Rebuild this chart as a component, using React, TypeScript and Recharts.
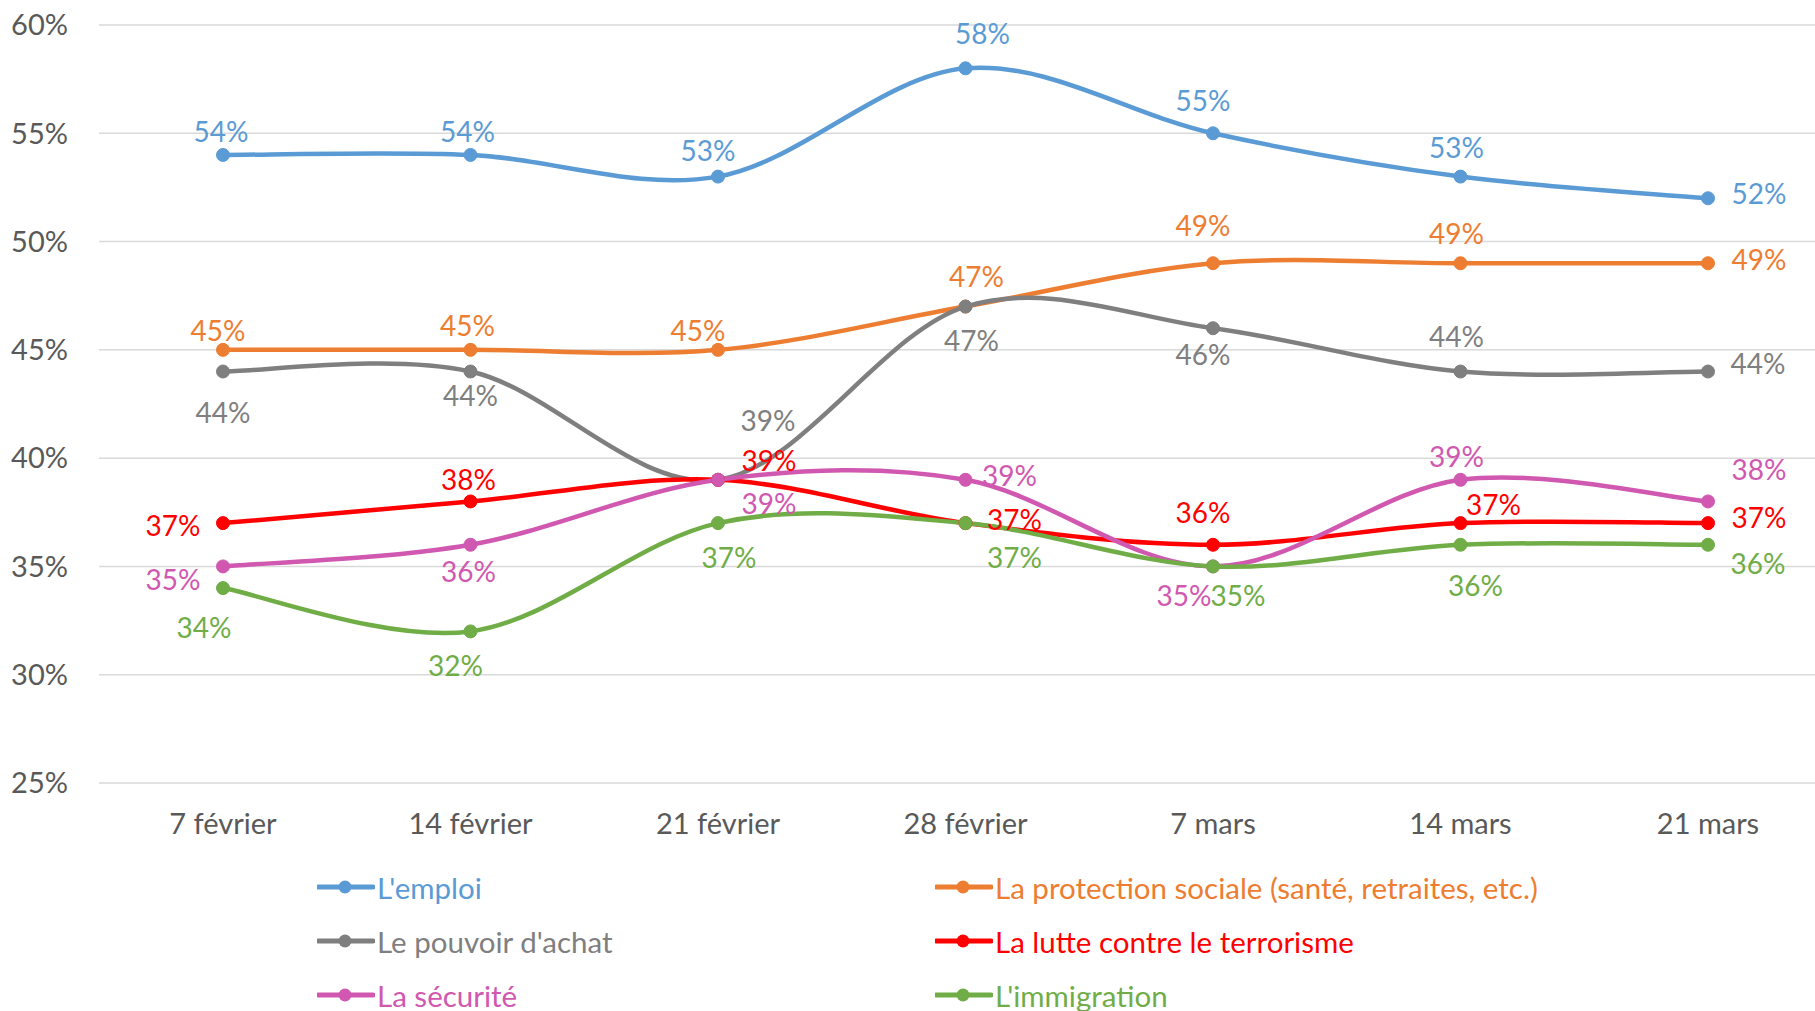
import { LineChart, Line, XAxis, YAxis, CartesianGrid, LabelList } from "recharts";

const DATES = ["7 février", "14 février", "21 février", "28 février", "7 mars", "14 mars", "21 mars"];
const EMPLOI = [54, 54, 53, 58, 55, 53, 52];
const PROTECTION = [45, 45, 45, 47, 49, 49, 49];
const POUVOIR = [44, 44, 39, 47, 46, 44, 44];
const TERRORISME = [37, 38, 39, 37, 36, 37, 37];
const SECURITE = [35, 36, 39, 39, 35, 39, 38];
const IMMIGRATION = [34, 32, 37, 37, 35, 36, 36];
const Y_TICKS = [25, 30, 35, 40, 45, 50, 55, 60];

const FONT = "Lato, 'Open Sans', sans-serif";
const AXIS_TEXT = "#595959";

// label offsets (dx, dy) relative to each point, in px
const SERIES = [
  {
    key: "emploi", name: "L'emploi", values: EMPLOI, color: "#5B9BD5",
    offsets: [[-2, -24], [-3, -24], [-10, -27], [17, -35], [-10, -33], [-4, -30], [51, -5]],
  },
  {
    key: "protection", name: "La protection sociale (santé, retraites, etc.)", values: PROTECTION, color: "#ED7D31",
    offsets: [[-5, -20], [-3, -25], [-20, -20], [11, -31], [-10, -38], [-4, -30], [51, -4]],
  },
  {
    key: "pouvoir", name: "Le pouvoir d'achat", values: POUVOIR, color: "#7F7F7F",
    offsets: [[0, 40], [0, 23], [50, -60], [6, 33], [-10, 26], [-4, -36], [50, -9]],
  },
  {
    key: "terrorisme", name: "La lutte contre le terrorisme", values: TERRORISME, color: "#FF0000",
    offsets: [[-50, 2], [-2, -22], [51, -20], [49, -4], [-10, -33], [33, -19], [51, -6]],
  },
  {
    key: "securite", name: "La sécurité", values: SECURITE, color: "#D058B0",
    offsets: [[-50, 13], [-2, 26], [51, 23], [44, -5], [-29, 29], [-4, -24], [51, -32]],
  },
  {
    key: "immigration", name: "L'immigration", values: IMMIGRATION, color: "#70AD47",
    offsets: [[-19, 39], [-15, 34], [11, 34], [49, 34], [25, 29], [15, 40], [50, 18]],
  },
];

const LEGEND_ORDER = [
  ["emploi", "protection"],
  ["pouvoir", "terrorisme"],
  ["securite", "immigration"],
];

const data = DATES.map((d, i) => {
  const row: any = { date: d };
  SERIES.forEach((s) => (row[s.key] = s.values[i]));
  return row;
});

// Excel-like smoothed line (Catmull-Rom through every point)
function smoothCurve(context: any) {
  let pts: number[][] = [];
  return {
    areaStart() {},
    areaEnd() {},
    lineStart() {
      pts = [];
    },
    point(x: number, y: number) {
      pts.push([+x, +y]);
    },
    lineEnd() {
      if (!pts.length) return;
      context.moveTo(pts[0][0], pts[0][1]);
      for (let i = 0; i < pts.length - 1; i++) {
        const p0 = pts[i - 1] || pts[i];
        const p1 = pts[i];
        const p2 = pts[i + 1];
        const p3 = pts[i + 2] || p2;
        context.bezierCurveTo(
          p1[0] + (p2[0] - p0[0]) / 6,
          p1[1] + (p2[1] - p0[1]) / 6,
          p2[0] - (p3[0] - p1[0]) / 6,
          p2[1] - (p3[1] - p1[1]) / 6,
          p2[0],
          p2[1]
        );
      }
    },
  };
}

const makeLabel = (offsets: number[][], color: string) => (props: any) => {
  const x = props.x ?? props.viewBox?.x;
  const y = props.y ?? props.viewBox?.y;
  const i = props.index ?? 0;
  const [dx, dy] = offsets[i] || [0, -24];
  if (x == null || y == null) return null;
  return (
    <text
      x={x + dx}
      y={y + dy}
      fill={color}
      fontSize={28}
      fontFamily={FONT}
      textAnchor="middle"
      dominantBaseline="central"
    >
      {`${props.value}%`}
    </text>
  );
};

function LegendBlock() {
  const byKey: any = {};
  SERIES.forEach((s) => (byKey[s.key] = s));
  return (
    <div style={{ position: "absolute", left: 0, top: 860, width: 1815, height: 151 }}>
      {LEGEND_ORDER.map((row, r) =>
        row.map((k, c) => {
          const s = byKey[k];
          return (
            <div
              key={k}
              style={{
                position: "absolute",
                left: c === 0 ? 317 : 935,
                top: 27 + r * 54 - 20,
                height: 40,
                display: "flex",
                alignItems: "center",
                fontFamily: FONT,
                fontSize: 29.5,
                color: s.color,
                whiteSpace: "nowrap",
              }}
            >
              <svg width={58} height={16} style={{ marginRight: 2 }}>
                <line x1={1} y1={8} x2={56} y2={8} stroke={s.color} strokeWidth={5} strokeLinecap="round" />
                <circle cx={28} cy={8} r={6.5} fill={s.color} />
              </svg>
              <span>{s.name}</span>
            </div>
          );
        })
      )}
    </div>
  );
}

export default function App() {
  return (
    <div
      style={{
        position: "fixed",
        left: 0,
        top: 0,
        width: 1815,
        height: 1011,
        overflow: "hidden",
        background: "#fff",
      }}
    >
      <LineChart
        width={1880}
        height={1011}
        data={data}
        margin={{ top: 25, right: 48, bottom: 168, left: 0 }}
      >
        <CartesianGrid vertical={false} stroke="#D9D9D9" strokeWidth={1.5} />
        <XAxis
          dataKey="date"
          height={60}
          axisLine={false}
          tickLine={false}
          tickSize={0}
          tickMargin={30}
          interval={0}
          padding={{ left: 124, right: 124 }}
          tick={{ fill: AXIS_TEXT, fontSize: 29, fontFamily: FONT }}
        />
        <YAxis
          width={99}
          domain={[25, 60]}
          ticks={Y_TICKS}
          axisLine={false}
          tickLine={false}
          tickSize={0}
          tickMargin={31}
          tickFormatter={(v: number) => `${v}%`}
          tick={{ fill: AXIS_TEXT, fontSize: 29, fontFamily: FONT }}
        />
        {SERIES.map((s) => (
          <Line
            key={s.key}
            dataKey={s.key}
            name={s.name}
            type={smoothCurve as any}
            stroke={s.color}
            strokeWidth={4.5}
            dot={{ r: 6.5, fill: s.color, stroke: s.color, strokeWidth: 1 }}
            isAnimationActive={false}
          >
            <LabelList dataKey={s.key} content={makeLabel(s.offsets, s.color)} />
          </Line>
        ))}
      </LineChart>
      <LegendBlock />
    </div>
  );
}
